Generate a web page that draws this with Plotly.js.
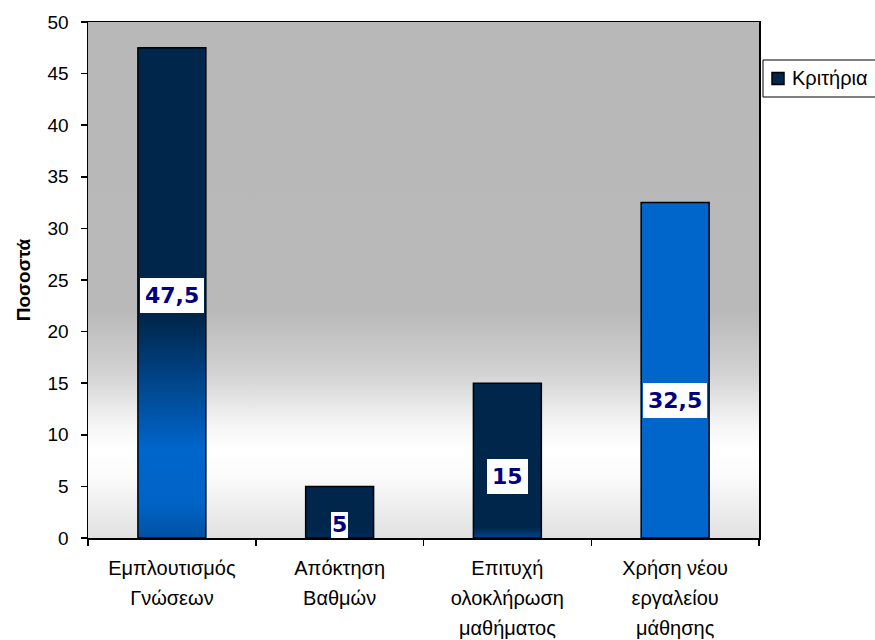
<!DOCTYPE html>
<html>
<head>
<meta charset="utf-8">
<script src="https://cdn.plot.ly/plotly-3.0.1.min.js"></script>
<style>
  html, body { margin: 0; padding: 0; background: #ffffff; }
  #chart { width: 875px; height: 640px; }
</style>
</head>
<body>
<div id="chart"></div>
<script>
// Survey answers: share of respondents (%) per criterion
const categories = [
  "Εμπλουτισμός<br>Γνώσεων",
  "Απόκτηση<br>Βαθμών",
  "Επιτυχή<br>ολοκλήρωση<br>μαθήματος",
  "Χρήση νέου<br>εργαλείου<br>μάθησης"
];
const values = [47.5, 5, 15, 32.5];
const seriesName = "Κριτήρια";
const yAxisTitle = "Ποσοστά";
const yTicks = [0, 5, 10, 15, 20, 25, 30, 35, 40, 45, 50];

// ---- styling ----
const NAVY = "#00264c";
const BLUE = "#0066cc";
const barColors = [NAVY, NAVY, NAVY, BLUE];

// vertical fill ramps for each bar (top -> bottom)
const barRamps = [
  [[0, NAVY], [0.55, NAVY], [0.82, BLUE], [0.93, "#0063c6"], [1, "#0052a3"]],
  [[0, NAVY], [0.8, NAVY], [1, "#002a57"]],
  [[0, NAVY], [0.93, NAVY], [1, "#00458e"]],
  [[0, BLUE], [1, BLUE]]
];
// plot-area backdrop ramp (top -> bottom)
const bgRamp = [
  [0, "#b8b8b8"], [0.56, "#b9b9b9"], [0.68, "#d2d2d2"], [0.78, "#f5f5f5"],
  [0.83, "#ffffff"], [0.88, "#fbfbfb"], [1, "#e1e1e1"]
];

// plot-area geometry in page pixels
const M = { l: 88, r: 116, t: 22, b: 102 };
const W = 875, H = 640;
const PW = W - M.l - M.r, PH = H - M.t - M.b;
const px = x => (x - M.l) / PW;
const py = y => (H - M.b - y) / PH;

// height (as share of each bar) where its value box sits
const labelShare = [0.495, 0.41, 0.40, 0.41];

const fmt = v => String(v).replace(".", ",");

// category labels: 20px glyphs on a roomier line pitch
const tickText = categories.map(c =>
  c.split("<br>").map(line => '<span style="font-size:20px">' + line + "</span>").join("<br>")
);

const trace = {
  type: "bar",
  name: seriesName,
  x: categories,
  y: values,
  width: values.map(() => 0.405),
  marker: { color: barColors, line: { color: "#000000", width: 1.5 } },
  hoverinfo: "skip"
};

const annotations = values.map((v, i) => {
  const base = {
    x: categories[i], xref: "x", yref: "y",
    text: "<b>" + fmt(v) + "</b>",
    showarrow: false,
    bgcolor: "#ffffff",
    borderpad: 5,
    borderwidth: 0,
    font: { family: "DejaVu Sans, Verdana, sans-serif", size: 22, color: "#000080" },
    xanchor: "center"
  };
  if (v < 8) {
    // short bar: the box rests on the axis and its text is cut by it
    return Object.assign(base, { y: 0, yanchor: "bottom", height: 24, borderpad: 1, valign: "bottom" });
  }
  return Object.assign(base, { y: v * labelShare[i], yanchor: "middle" });
});

// legend box, swatch and label
annotations.push({
  xref: "paper", yref: "paper", x: px(790), y: py(78.5),
  xanchor: "left", yanchor: "middle", showarrow: false,
  text: seriesName,
  font: { family: "Liberation Sans, Arial, sans-serif", size: 20, color: "#000000" }
});
const shapes = [
  { type: "rect", xref: "paper", yref: "paper", layer: "above",
    x0: px(763), x1: px(890), y0: py(97), y1: py(60),
    fillcolor: "#ffffff", line: { color: "#000000", width: 1 } },
  { type: "rect", xref: "paper", yref: "paper", layer: "above",
    x0: px(772), x1: px(784), y0: py(84.5), y1: py(72.5),
    fillcolor: barColors[0], line: { color: "#000000", width: 1.5 } }
];

const layout = {
  width: W, height: H,
  margin: { l: M.l, r: M.r, t: M.t, b: M.b, pad: 0 },
  paper_bgcolor: "#ffffff",
  plot_bgcolor: "#b8b8b8",
  showlegend: false,
  bargap: 0.6,
  font: { family: "Liberation Sans, Arial, sans-serif", size: 19, color: "#000000" },
  xaxis: {
    type: "category",
    range: [-0.5, 3.5],
    tickvals: categories,
    ticktext: tickText,
    showline: true, mirror: true, linecolor: "#000000", linewidth: 1.5,
    ticks: "outside", tickson: "boundaries", ticklen: 6, tickwidth: 1.5, tickcolor: "#000000",
    showgrid: false, zeroline: false,
    tickfont: { size: 23 },
    ticklabelstandoff: 8,
    automargin: false, fixedrange: true
  },
  yaxis: {
    range: [0, 50],
    tickvals: yTicks,
    ticktext: yTicks.map(String),
    showline: true, mirror: true, linecolor: "#000000", linewidth: 1.5,
    ticks: "outside", ticklen: 6, tickwidth: 1.5, tickcolor: "#000000",
    showgrid: false, zeroline: false,
    tickfont: { size: 19 },
    ticklabelstandoff: 8,
    title: { text: "<b>" + yAxisTitle + "</b>", font: { size: 19 }, standoff: 12 },
    automargin: false, fixedrange: true
  },
  annotations: annotations,
  shapes: shapes
};

function addRamp(defs, id, stops) {
  const ns = "http://www.w3.org/2000/svg";
  const g = document.createElementNS(ns, "linearGradient");
  g.setAttribute("id", id);
  g.setAttribute("x1", "0"); g.setAttribute("y1", "0");
  g.setAttribute("x2", "0"); g.setAttribute("y2", "1");
  stops.forEach(s => {
    const st = document.createElementNS(ns, "stop");
    st.setAttribute("offset", s[0]);
    st.setAttribute("stop-color", s[1]);
    g.appendChild(st);
  });
  defs.appendChild(g);
}

const gd = document.getElementById("chart");
Plotly.newPlot(gd, [trace], layout, { staticPlot: true, displayModeBar: false }).then(() => {
  const svg = gd.querySelector("svg.main-svg");
  let defs = svg.querySelector("defs");
  if (!defs) { defs = document.createElementNS("http://www.w3.org/2000/svg", "defs"); svg.insertBefore(defs, svg.firstChild); }
  addRamp(defs, "plotAreaRamp", bgRamp);
  const bg = gd.querySelector(".bglayer rect.bg") || gd.querySelector("rect.bg");
  if (bg) bg.style.fill = "url(#plotAreaRamp)";
  gd.querySelectorAll(".barlayer .point path").forEach((p, i) => {
    addRamp(defs, "barRamp" + i, barRamps[i]);
    p.style.fill = "url(#barRamp" + i + ")";
  });
});
</script>
</body>
</html>
